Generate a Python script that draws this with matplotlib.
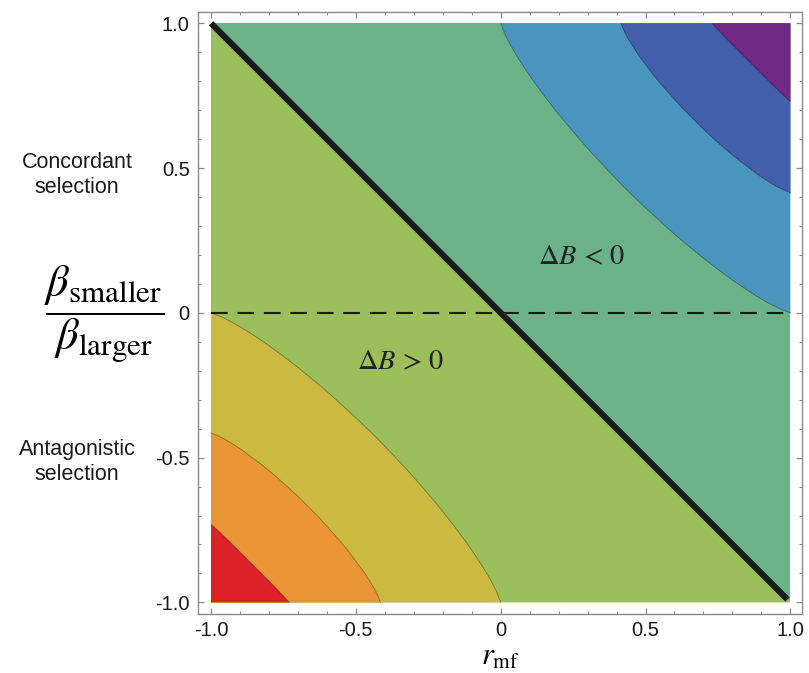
import matplotlib
matplotlib.use("Agg")
import matplotlib.pyplot as plt
from matplotlib.ticker import MultipleLocator

plt.rcParams['font.family'] = ['Liberation Sans', 'DejaVu Sans']
plt.rcParams['mathtext.fontset'] = 'stix'

# contour boundaries, read off the picture, measured from the corner they bend around
# (u = distance from the corner along x, v = distance along y)
curve1_u = [0.00, 0.04, 0.08, 0.12, 0.16, 0.20, 0.25, 0.30, 0.35, 0.40, 0.45, 0.50, 0.57,
            0.6375, 0.6838, 0.7283, 0.7707, 0.8114, 0.850, 0.8867, 0.914, 0.940, 0.9637, 0.9846, 1.00]
curve1_v = [1.00, 0.9846, 0.9637, 0.940, 0.914, 0.8867, 0.850, 0.8114, 0.7707, 0.7283, 0.6838, 0.6375, 0.57,
            0.50, 0.45, 0.40, 0.35, 0.30, 0.25, 0.20, 0.16, 0.12, 0.08, 0.04, 0.00]
curve2_u = [0.00, 0.023, 0.047, 0.070, 0.094, 0.117, 0.146, 0.176, 0.205, 0.234, 0.263, 0.293, 0.333,
            0.373, 0.400, 0.426, 0.451, 0.475, 0.497, 0.519, 0.535, 0.550, 0.564, 0.576, 0.585]
curve2_v = [0.585, 0.576, 0.564, 0.550, 0.535, 0.519, 0.497, 0.475, 0.451, 0.426, 0.400, 0.373, 0.333,
            0.293, 0.263, 0.234, 0.205, 0.176, 0.146, 0.117, 0.094, 0.070, 0.047, 0.023, 0.00]
curve3_u = [0.00, 0.023, 0.045, 0.068, 0.091, 0.114, 0.137, 0.160, 0.183, 0.206, 0.228, 0.249, 0.27]
curve3_v = [0.27, 0.249, 0.228, 0.206, 0.183, 0.160, 0.137, 0.114, 0.091, 0.068, 0.045, 0.023, 0.00]

# band colours, lower-left corner outward and upper-right corner outward
low_colors = ['#DD2227', '#E99535', '#CBB942', '#9BBF5A']
high_colors = ['#722984', '#435EAA', '#4A95BE', '#6BB289']

x_ticks = [-1.0, -0.5, 0.0, 0.5, 1.0]
x_ticklabels = ['-1.0', '-0.5', '0', '0.5', '1.0']
y_ticks = [-1.0, -0.5, 0.0, 0.5, 1.0]
y_ticklabels = ['-1.0', '-0.5', '0', '0.5', '1.0']

fig = plt.figure(figsize=(8.09, 6.73), dpi=100)
ax = fig.add_axes([0.2447, 0.0877, 0.7466, 0.8949])

# two halves either side of dB = 0
ax.fill([-1, -1, 1], [-1, 1, -1], color=low_colors[3], lw=0)
ax.fill([-1, 1, 1], [1, 1, -1], color=high_colors[3], lw=0)

curves = [(curve1_u, curve1_v), (curve2_u, curve2_v), (curve3_u, curve3_v)]
for k, (cu, cv) in enumerate(curves):
    # lower-left corner
    xs = [-1 + u for u in cu]
    ys = [-1 + v for v in cv]
    ax.fill(xs + [-1], ys + [-1], color=low_colors[2 - k], lw=0)
    ax.plot(xs, ys, color=(0, 0, 0, 0.3), lw=0.7)
    # upper-right corner
    xs = [1 - u for u in cu]
    ys = [1 - v for v in cv]
    ax.fill(xs + [1], ys + [1], color=high_colors[2 - k], lw=0)
    ax.plot(xs, ys, color=(0, 0, 0, 0.3), lw=0.7)

ax.plot([-1, 0.99], [1, -0.99], color='#1a1a1a', lw=4.4, solid_capstyle='butt')
ax.plot([-1, 1], [0, 0], color='#1a1a1a', lw=1.5, dashes=(8, 4.7))

ax.text(0.28, 0.19, r'$\Delta B$ < 0', fontsize=20.5, ha='center', va='center',
        color='#222222', family='STIXGeneral')
ax.text(-0.347, -0.174, r'$\Delta B$ > 0', fontsize=20.5, ha='center', va='center',
        color='#222222', family='STIXGeneral')

ax.set_xlim(-1.045, 1.04)
ax.set_ylim(-1.04, 1.04)
ax.set_xticks(x_ticks)
ax.set_xticklabels(x_ticklabels)
ax.set_yticks(y_ticks)
ax.set_yticklabels(y_ticklabels)
ax.xaxis.set_minor_locator(MultipleLocator(0.1))
ax.yaxis.set_minor_locator(MultipleLocator(0.1))
ax.tick_params(which='both', direction='in', top=True, right=True, color='#8a8a8a',
               labelsize=14.5, labelcolor='#1a1a1a')
ax.tick_params(which='major', length=4, width=0.9)
ax.tick_params(which='minor', length=2.5, width=0.8)
ax.tick_params(axis='x', pad=5)
ax.tick_params(axis='y', pad=6)
for s in ax.spines.values():
    s.set_color('#8a8a8a')
    s.set_linewidth(1.0)

fig.text(500 / 809, 1 - 665 / 673, r'$r_{\rm mf}$', fontsize=22, ha='center', va='baseline')
fig.text(104 / 809, 1 - 315 / 673, r'$\dfrac{\beta_{\rm smaller}}{\beta_{\rm larger}}$',
         fontsize=32, ha='center', va='center')
fig.text(77 / 809, 1 - 175 / 673, 'Concordant\nselection', fontsize=15.5,
         ha='center', va='center', color='#1a1a1a', linespacing=1.2)
fig.text(77 / 809, 1 - 462 / 673, 'Antagonistic\nselection', fontsize=15.5,
         ha='center', va='center', color='#1a1a1a', linespacing=1.2)

fig.savefig('out.png', dpi=100)
